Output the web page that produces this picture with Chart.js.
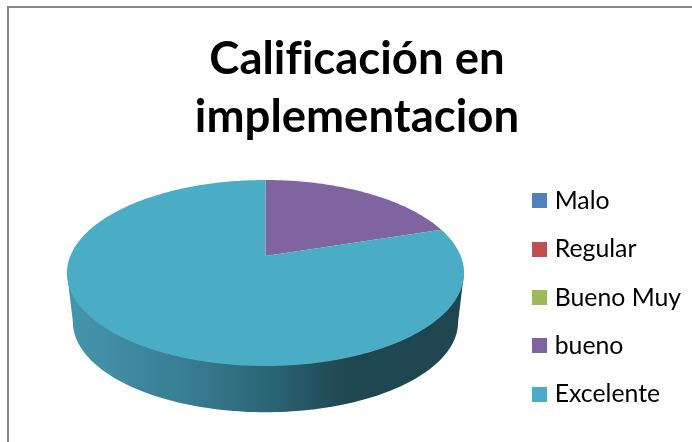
<!DOCTYPE html>
<html><head><meta charset="utf-8">
<style>html,body{margin:0;padding:0;background:#fff;overflow:hidden}canvas{display:block}</style>
<script src="https://cdn.jsdelivr.net/npm/chart.js@4"></script>
</head><body><canvas id="c" width="692" height="442" style="width:692px;height:442px"></canvas>
<script>
const categories = ['Malo','Regular','Bueno Muy','bueno','Excelente'];
const values = [0,0,0,20,80];
const colors = ['#4f81bd','#c0504d','#9bbb59','#8064a2','#4bacc6'];
const titleLines = ['Calificación en','implementacion'];

function swatch(color){
  const s=document.createElement('canvas');s.width=15;s.height=15;
  const x=s.getContext('2d');x.fillStyle=color;x.fillRect(0,0,15,15);return s;
}
// perspective of the disc
const P={cx:265.5,cy:256,a:195.2,b:89.9,k:0.1827,dy:49.5,shrink:0.97};
function rimTop(t){const u=Math.sin(t),v=Math.cos(t),w=1+P.k*v;return [P.cx+P.a*u/w,P.cy-P.b*v/w];}
function rimBot(t){const p=rimTop(t);return [P.cx+(p[0]-P.cx)*P.shrink,P.cy+P.dy+(p[1]-P.cy)*P.shrink];}

const pie3d={id:'pie3d',
  beforeDatasetsDraw(chart){
    const ctx=chart.ctx, els=chart.getDatasetMeta(0).data;
    ctx.save();
    const g=ctx.createLinearGradient(67,0,464,0);
    g.addColorStop(0,'#4596ae');g.addColorStop(.3,'#387d93');g.addColorStop(.5,'#2c6677');
    g.addColorStop(.7,'#1f4752');g.addColorStop(1,'#1e4550');
    ctx.fillStyle=g;ctx.beginPath();
    const t0=Math.acos(-P.k),n=120;
    let p=rimTop(t0);ctx.moveTo(p[0],p[1]);
    for(let i=0;i<=n;i++){p=rimBot(t0+(2*Math.PI-2*t0)*i/n);ctx.lineTo(p[0],p[1]);}
    p=rimTop(2*Math.PI-t0);ctx.lineTo(p[0],p[1]);ctx.closePath();ctx.fill();
    els.forEach((el,i)=>{
      const s=el.startAngle+Math.PI/2,e=el.endAngle+Math.PI/2;
      if(e-s<=1e-6)return;
      ctx.fillStyle=el.options.backgroundColor;ctx.beginPath();ctx.moveTo(P.cx,P.cy);
      const m=Math.max(4,Math.ceil((e-s)*60));
      for(let j=0;j<=m;j++){const q=rimTop(s+(e-s)*j/m);ctx.lineTo(q[0],q[1]);}
      ctx.closePath();ctx.fill();
    });
    ctx.restore();
    return false;
  },
  beforeDraw(chart){
    const ctx=chart.ctx;ctx.save();ctx.fillStyle='#868686';
    ctx.fillRect(7,6,2,436);ctx.fillRect(7,6,685,2);ctx.restore();
    ctx.letterSpacing='0.01px';
  }
};
new Chart(document.getElementById('c'),{
  type:'pie',
  data:{labels:categories,datasets:[{data:values,backgroundColor:colors,borderWidth:0}]},
  plugins:[pie3d],
  options:{responsive:false,animation:false,
    layout:{padding:{left:23,right:1,top:0,bottom:3}},
    plugins:{
      tooltip:{enabled:false},
      title:{display:true,text:titleLines,color:'#000',
        font:{family:'Lato',size:45.5,weight:'bold',lineHeight:1.275},padding:{top:30,bottom:10}},
      legend:{position:'right',fullSize:false,
        labels:{color:'#000',font:{family:'Lato',size:24.8},padding:23.6,usePointStyle:true,pointStyleWidth:6,boxHeight:15,
          generateLabels(chart){
            return categories.map((c,i)=>({text:c,pointStyle:swatch(colors[i]),fontColor:'#000',hidden:false,index:i,lineWidth:0}));
          }}}
    }
  }
});
</script></body></html>
